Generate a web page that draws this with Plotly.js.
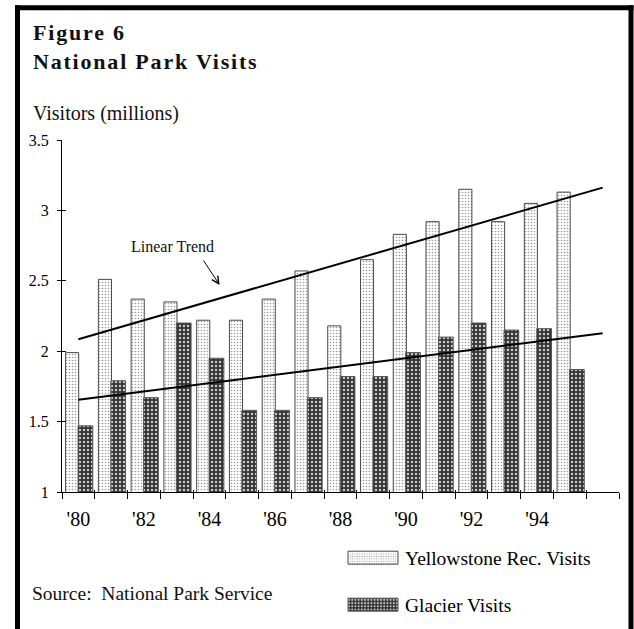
<!DOCTYPE html>
<html>
<head>
<meta charset="utf-8">
<script src="https://cdn.plot.ly/plotly-3.0.1.min.js"></script>
<style>
  html, body { margin: 0; padding: 0; background: #fff; }
  #chart { width: 634px; height: 629px; }
  .gtitle { letter-spacing: 1.8px; }
</style>
</head>
<body>
<div id="chart"></div>
<script>
// Visits per year, millions
const years = [1980, 1981, 1982, 1983, 1984, 1985, 1986, 1987,
               1988, 1989, 1990, 1991, 1992, 1993, 1994, 1995];
const yellowstone = [1.99, 2.51, 2.37, 2.35, 2.22, 2.22, 2.37, 2.57,
                     2.18, 2.65, 2.83, 2.92, 3.15, 2.92, 3.05, 3.13];
const glacier = [1.47, 1.79, 1.67, 2.20, 1.95, 1.58, 1.58, 1.67,
                 1.82, 1.82, 1.99, 2.10, 2.20, 2.15, 2.16, 1.87];
const seriesNames = ["Yellowstone Rec. Visits", "Glacier Visits"];
const tickYears = [1980, 1982, 1984, 1986, 1988, 1990, 1992, 1994];
const tickLabels = ["'80", "'82", "'84", "'86", "'88", "'90", "'92", "'94"];
const trendSpan = [1980, 1996];

// least-squares line evaluated at the ends of the span
function linearTrend(xs, ys, span) {
  const n = xs.length;
  const mx = xs.reduce((a, b) => a + b, 0) / n;
  const my = ys.reduce((a, b) => a + b, 0) / n;
  let sxy = 0, sxx = 0;
  for (let i = 0; i < n; i++) {
    sxy += (xs[i] - mx) * (ys[i] - my);
    sxx += (xs[i] - mx) * (xs[i] - mx);
  }
  const b = sxy / sxx;
  return span.map(x => my + b * (x - mx));
}

// plot-area geometry (pixels)
const W = 634, H = 629;
const L = 62, R = 619, T = 140, B = 492;
const PW = R - L, PH = B - T;
const px2x = px => (px - L) / PW;
const px2y = py => (B - py) / PH;

const serif = "Liberation Serif, Times New Roman, serif";
const xRange = [1979.5, 1996.5];
const yRange = [1, 3.5];

// category boundaries for the tick marks
const boundaries = [];
for (let v = xRange[0]; v <= xRange[1]; v += 1) boundaries.push(v);

const traces = [
  {
    type: "bar", name: seriesNames[0], x: years, y: yellowstone,
    offset: -0.39, width: 0.40, legend: "legend",
    marker: {
      color: "#ffffff",
      pattern: { shape: ".", bgcolor: "#ffffff", fgcolor: "#9a9a9a", size: 3, solidity: 0.22 },
      line: { color: "#4a4a4a", width: 1 }
    },
    hoverinfo: "x+y"
  },
  {
    type: "bar", name: seriesNames[1], x: years, y: glacier,
    offset: -0.01, width: 0.45, legend: "legend2",
    marker: {
      color: "#333333",
      pattern: { shape: ".", bgcolor: "#333333", fgcolor: "#c8c8c8", size: 4, solidity: 0.3 },
      line: { color: "#555555", width: 1 }
    },
    hoverinfo: "x+y"
  },
  {
    type: "scatter", mode: "lines", x: trendSpan,
    y: linearTrend(years, yellowstone, trendSpan),
    line: { color: "#000", width: 2 }, showlegend: false, hoverinfo: "skip"
  },
  {
    type: "scatter", mode: "lines", x: trendSpan,
    y: linearTrend(years, glacier, trendSpan),
    line: { color: "#000", width: 2 }, showlegend: false, hoverinfo: "skip"
  },
  // empty traces so the overlay axes (labels / inner tick marks) get drawn
  { type: "scatter", x: [], y: [], xaxis: "x2", yaxis: "y2", showlegend: false, hoverinfo: "skip" },
  { type: "scatter", x: [], y: [], xaxis: "x3", yaxis: "y", showlegend: false, hoverinfo: "skip" }
];

const frameLine = { color: "#000", width: 5 };

const layout = {
  width: W, height: H,
  margin: { l: L, r: W - R, t: T, b: H - B, pad: 0, autoexpand: false },
  paper_bgcolor: "#fff", plot_bgcolor: "#fff",
  font: { family: serif, color: "#000", size: 16 },
  barmode: "group",
  title: {
    text: "<b>Figure 6<br>National Park Visits</b>",
    font: { family: serif, size: 22, color: "#111" },
    xref: "container", yref: "container",
    x: 33 / W, xanchor: "left",
    y: 1 - 40 / H, yanchor: "top",
    pad: { t: 0, b: 0, l: 0, r: 0 }
  },
  xaxis: {
    range: xRange, tickmode: "array", tickvals: boundaries,
    showticklabels: false, ticks: "outside", ticklen: 6, tickcolor: "#000", tickwidth: 1,
    showline: true, linecolor: "#000", linewidth: 1,
    showgrid: false, zeroline: false, anchor: "y"
  },
  xaxis2: {
    overlaying: "x", anchor: "y2", range: xRange,
    tickmode: "array", tickvals: tickYears, ticktext: tickLabels,
    ticks: "", showline: false, showgrid: false, zeroline: false,
    tickfont: { family: serif, size: 20, color: "#000" },
    ticklabelstandoff: 13
  },
  xaxis3: {
    overlaying: "x", anchor: "y", range: xRange,
    tickmode: "array", tickvals: boundaries, showticklabels: false,
    ticks: "inside", ticklen: 2, tickcolor: "#000",
    showline: false, showgrid: false, zeroline: false
  },
  yaxis: {
    range: yRange, tick0: 1, dtick: 0.5,
    ticks: "outside", ticklen: 4, tickcolor: "#000", tickwidth: 1,
    showline: true, linecolor: "#000", linewidth: 1,
    showgrid: false, zeroline: false,
    tickfont: { family: serif, size: 16, color: "#000" },
    ticklabelstandoff: 5, anchor: "x"
  },
  yaxis2: {
    overlaying: "y", anchor: "x2", side: "left", range: yRange,
    tick0: 1, dtick: 0.5, showticklabels: false,
    ticks: "inside", ticklen: 4, tickcolor: "#000",
    showline: false, showgrid: false, zeroline: false
  },
  legend: {
    x: px2x(341), xanchor: "left", y: px2y(558), yanchor: "middle",
    itemwidth: 54, font: { family: serif, size: 19.5, color: "#000" },
    bgcolor: "rgba(0,0,0,0)", borderwidth: 0
  },
  legend2: {
    x: px2x(341), xanchor: "left", y: px2y(605), yanchor: "middle",
    itemwidth: 54, font: { family: serif, size: 19.5, color: "#000" },
    bgcolor: "rgba(0,0,0,0)", borderwidth: 0
  },
  annotations: [
    {
      text: "Visitors (millions)", xref: "paper", yref: "paper",
      x: px2x(31), xanchor: "left", y: px2y(114), yanchor: "middle",
      showarrow: false, font: { family: serif, size: 20, color: "#111" }
    },
    {
      text: "Source:\u00a0 National Park Service", xref: "paper", yref: "paper",
      x: px2x(30), xanchor: "left", y: px2y(593.5), yanchor: "middle",
      showarrow: false, font: { family: serif, size: 19.5, color: "#111" }
    },
    {
      text: "Linear Trend", xref: "paper", yref: "paper",
      x: px2x(172.5), xanchor: "center", y: px2y(246), yanchor: "middle",
      showarrow: false, font: { family: serif, size: 16, color: "#111" }
    },
    {
      text: "", xref: "x", yref: "y", axref: "x", ayref: "y",
      x: 1984.31, y: 2.471, ax: 1983.79, ay: 2.654,
      showarrow: true, arrowhead: 5, arrowsize: 1.4, arrowwidth: 1, arrowcolor: "#000",
      standoff: 0, startstandoff: 0
    }
  ],
  shapes: [
    { type: "line", xref: "paper", yref: "paper", layer: "above",
      x0: px2x(15), x1: px2x(633.5), y0: px2y(7.8), y1: px2y(7.8), line: frameLine },
    { type: "line", xref: "paper", yref: "paper", layer: "above",
      x0: px2x(17.5), x1: px2x(17.5), y0: px2y(5.3), y1: px2y(640), line: frameLine },
    { type: "line", xref: "paper", yref: "paper", layer: "above",
      x0: px2x(631), x1: px2x(631), y0: px2y(5.3), y1: px2y(640), line: frameLine }
  ],
  showlegend: true
};

function widenSwatches(gd) {
  gd.querySelectorAll(".legendpoints path").forEach(p => {
    p.setAttribute("d", "M25,6.5H-25V-6.5H25Z");
  });
}

Plotly.newPlot("chart", traces, layout, { displayModeBar: false, staticPlot: true }).then(gd => {
  widenSwatches(gd);
  gd.on("plotly_afterplot", () => widenSwatches(gd));
});
</script>
</body>
</html>
